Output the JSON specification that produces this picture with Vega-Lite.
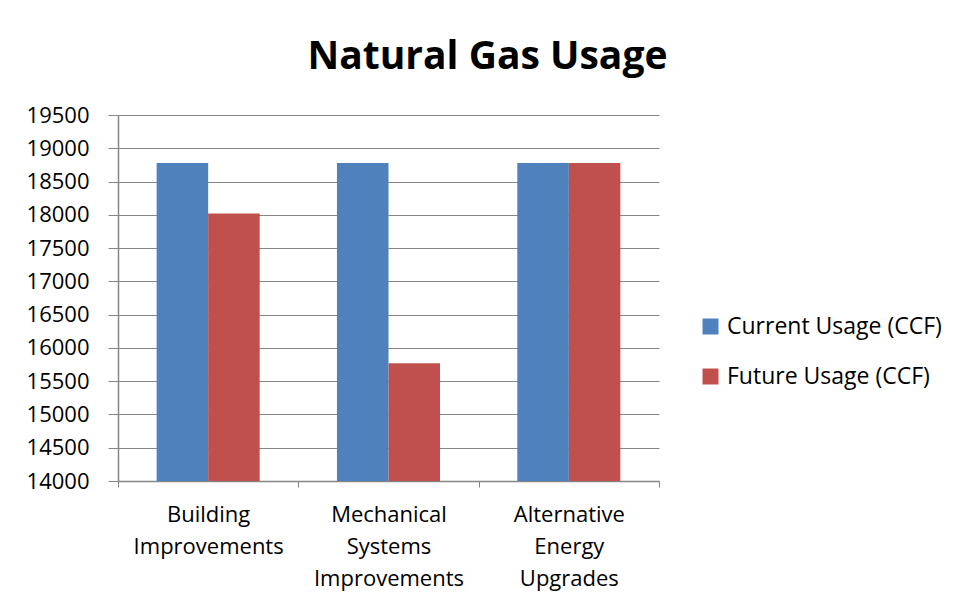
{
  "$schema": "https://vega.github.io/schema/vega-lite/v6.json",
  "autosize": {"type": "none"},
  "width": 541,
  "height": 366,
  "padding": {"left": 118, "top": 115, "right": 300, "bottom": 128},
  "background": "white",
  "title": {
    "text": "Natural Gas Usage",
    "font": "Open Sans",
    "fontSize": 39,
    "fontWeight": "bold",
    "color": "#000000",
    "anchor": "middle",
    "dx": 99,
    "offset": 27
  },
  "data": {
    "values": [
      {"category": "Building Improvements", "series": "Current Usage (CCF)", "value": 18780},
      {"category": "Building Improvements", "series": "Future Usage (CCF)", "value": 18020},
      {"category": "Mechanical Systems Improvements", "series": "Current Usage (CCF)", "value": 18780},
      {"category": "Mechanical Systems Improvements", "series": "Future Usage (CCF)", "value": 15770},
      {"category": "Alternative Energy Upgrades", "series": "Current Usage (CCF)", "value": 18780},
      {"category": "Alternative Energy Upgrades", "series": "Future Usage (CCF)", "value": 18780}
    ]
  },
  "mark": {"type": "bar", "clip": true},
  "encoding": {
    "x": {
      "field": "category",
      "type": "nominal",
      "sort": null,
      "scale": {"paddingInner": 0, "paddingOuter": 0},
      "axis": {
        "title": null,
        "labelAngle": 0,
        "labelFont": "Open Sans",
        "labelFontSize": 22,
        "labelColor": "#000000",
        "labelLineHeight": 32,
        "labelPadding": 17,
        "labelExpr": "datum.value == 'Building Improvements' ? ['Building', 'Improvements'] : datum.value == 'Mechanical Systems Improvements' ? ['Mechanical', 'Systems', 'Improvements'] : datum.value == 'Alternative Energy Upgrades' ? ['Alternative', 'Energy', 'Upgrades'] : ''",
        "tickBand": "extent",
        "tickSize": 6,
        "tickColor": "#868686",
        "domainColor": "#868686",
        "domainWidth": 1.5,
        "grid": false
      }
    },
    "xOffset": {
      "field": "series",
      "type": "nominal",
      "scale": {"paddingInner": 0, "paddingOuter": 0.75}
    },
    "y": {
      "field": "value",
      "type": "quantitative",
      "scale": {"domain": [14000, 19500], "zero": false, "nice": false},
      "axis": {
        "title": null,
        "values": [14000, 14500, 15000, 15500, 16000, 16500, 17000, 17500, 18000, 18500, 19000, 19500],
        "format": "d",
        "labelFont": "Open Sans",
        "labelFontSize": 22,
        "labelColor": "#000000",
        "labelPadding": 19,
        "tickSize": 10,
        "tickColor": "#868686",
        "domainColor": "#868686",
        "domainWidth": 1.5,
        "gridColor": "#868686",
        "gridWidth": 1.2,
        "gridOpacity": 1
      }
    },
    "color": {
      "field": "series",
      "type": "nominal",
      "scale": {"domain": ["Current Usage (CCF)", "Future Usage (CCF)"], "range": ["#4F81BD", "#C0504D"]},
      "legend": {
        "title": null,
        "orient": "none",
        "legendX": 581,
        "legendY": 200,
        "symbolType": "square",
        "symbolSize": 256,
        "symbolStrokeWidth": 0,
        "labelFont": "Open Sans",
        "labelFontSize": 23,
        "labelLimit": 0,
        "labelColor": "#000000",
        "labelOffset": 5,
        "rowPadding": 26
      }
    }
  },
  "config": {
    "view": {"stroke": null},
    "axis": {"labelOverlap": false}
  }
}
